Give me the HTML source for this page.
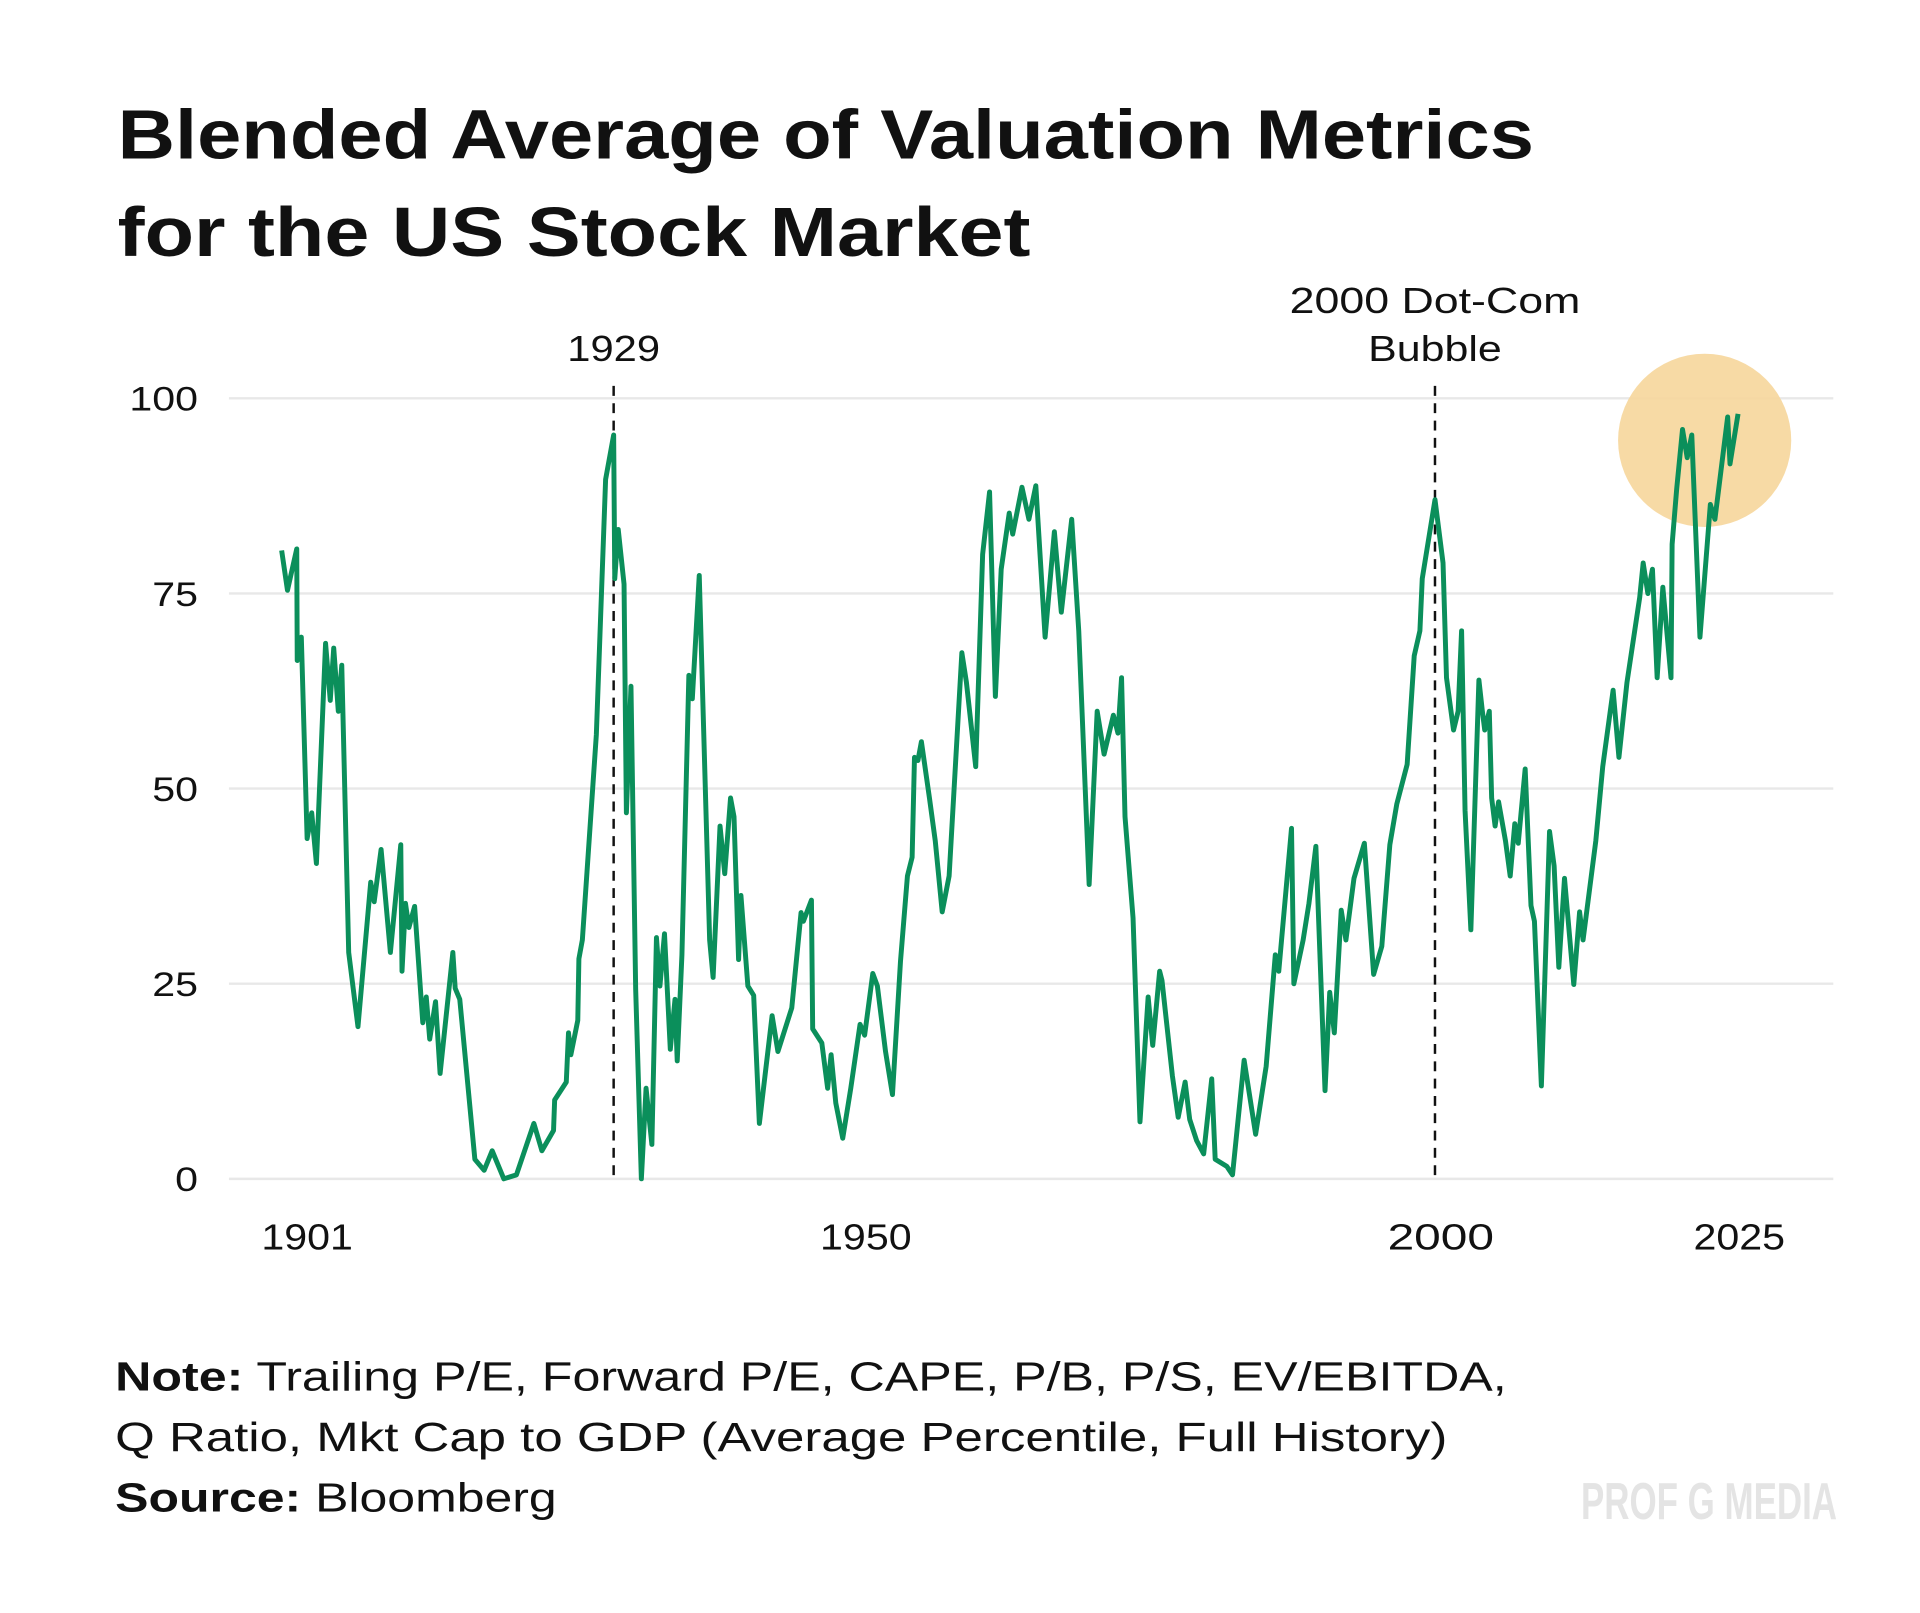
<!DOCTYPE html>
<html><head><meta charset="utf-8"><style>
html,body{margin:0;padding:0;background:#fff;}
svg{display:block;}
text{font-family:"Liberation Sans",sans-serif;}
</style></head><body>
<svg id="chart" width="1920" height="1613" viewBox="0 0 1552 1304" xmlns="http://www.w3.org/2000/svg">
<rect width="1552" height="1304" fill="#fff"/>
<text x="95" y="128" font-size="56" font-weight="bold" fill="#111" textLength="1145" lengthAdjust="spacingAndGlyphs">Blended Average of Valuation Metrics</text>
<text x="95" y="207" font-size="56" font-weight="bold" fill="#111" textLength="738" lengthAdjust="spacingAndGlyphs">for the US Stock Market</text>
<g id="grid"></g>
<g id="yticks"></g>
<g id="xticks"></g>
<circle cx="1378" cy="356" r="70" fill="#f6d69b" opacity="0.9"/>
<g id="events"></g>
<path id="line" fill="none" stroke="#0b8f5b" stroke-width="4" stroke-linejoin="round"/>
<text x="93" y="1124" font-size="33" fill="#111" textLength="1125" lengthAdjust="spacingAndGlyphs"><tspan font-weight="bold">Note:</tspan> Trailing P/E, Forward P/E, CAPE, P/B, P/S, EV/EBITDA,</text>
<text x="93" y="1173" font-size="33" fill="#111" textLength="1077" lengthAdjust="spacingAndGlyphs">Q Ratio, Mkt Cap to GDP (Average Percentile, Full History)</text>
<text x="93" y="1222" font-size="33" fill="#111" textLength="357" lengthAdjust="spacingAndGlyphs"><tspan font-weight="bold">Source:</tspan> Bloomberg</text>
<text x="1278" y="1228" font-size="42" font-weight="bold" fill="#e4e4e4" textLength="207" lengthAdjust="spacingAndGlyphs">PROF G MEDIA</text>
</svg>
<script>
const years=[1900.3,1900.8,1901.6,1901.65,1902.0,1902.5,1902.9,1903.3,1904.1,1904.5,1904.8,1905.2,1905.5,1906.1,1906.9,1908.0,1908.3,1908.9,1909.7,1910.6,1910.7,1911.0,1911.3,1911.8,1912.5,1912.8,1913.1,1913.6,1914.0,1915.1,1915.3,1915.7,1917.0,1917.8,1918.5,1919.5,1920.6,1922.1,1922.8,1923.8,1923.9,1924.9,1925.1,1925.3,1925.9,1926.0,1926.3,1927.5,1928.3,1929.0,1929.1,1929.4,1929.9,1930.1,1930.5,1930.9,1931.4,1931.8,1932.3,1932.7,1933.0,1933.4,1933.9,1934.3,1934.5,1934.9,1935.5,1935.8,1936.4,1937.3,1937.6,1938.2,1938.6,1939.1,1939.4,1939.8,1940.0,1940.6,1941.1,1941.6,1942.7,1943.2,1944.4,1945.2,1945.4,1946.1,1946.2,1947.0,1947.5,1947.8,1948.2,1948.8,1949.5,1950.3,1950.7,1951.4,1951.8,1952.5,1953.1,1953.8,1954.4,1954.8,1955.0,1955.3,1955.6,1956.3,1956.8,1957.4,1958.0,1959.1,1959.5,1960.3,1960.9,1961.5,1962.0,1962.5,1963.2,1963.5,1964.3,1964.9,1965.5,1966.3,1967.1,1967.7,1968.6,1969.2,1970.1,1970.8,1971.4,1972.2,1972.6,1972.9,1973.2,1973.9,1974.5,1975.2,1975.6,1976.2,1976.4,1977.3,1977.8,1978.4,1978.8,1979.4,1980.0,1980.7,1981.0,1982.0,1982.5,1983.5,1984.5,1985.4,1986.2,1986.5,1987.6,1987.8,1988.6,1989.1,1989.7,1990.5,1990.9,1991.3,1991.9,1992.3,1993.0,1993.9,1994.7,1995.4,1996.1,1996.7,1997.6,1998.2,1998.7,1998.9,2000.0,2000.7,2001.0,2001.6,2002.0,2002.3,2002.6,2003.1,2003.8,2004.1,2004.3,2004.7,2004.9,2005.2,2005.5,2006.1,2006.5,2006.9,2007.2,2007.8,2008.3,2008.6,2009.2,2009.9,2010.3,2010.7,2011.2,2012.0,2012.5,2012.8,2013.9,2014.5,2015.4,2015.9,2016.6,2017.7,2018.0,2018.4,2018.8,2019.2,2019.7,2020.4,2020.5,2020.9,2021.4,2021.8,2022.2,2022.9,2023.8,2024.2,2025.3,2025.5,2026.2];
const values=[80.5,75.4,80.7,66.4,69.4,43.6,46.9,40.4,68.6,61.3,68.0,59.9,65.8,29.0,19.5,38.0,35.5,42.2,29.0,42.8,26.6,35.3,32.2,34.9,20.0,23.3,17.9,22.7,13.5,29.0,24.4,23.0,2.5,1.1,3.6,0,0.5,7.1,3.6,6.2,10.1,12.4,18.7,15.9,20.3,28.2,30.6,56.9,89.6,95.3,76.9,83.2,76.2,46.9,63.1,24.3,0,11.6,4.4,30.9,24.7,31.4,16.6,23.0,15.1,28.7,64.5,61.5,77.3,30.6,25.8,45.2,39.1,48.8,46.4,28.1,36.3,24.7,23.5,7.1,20.9,16.3,21.9,34.1,33.0,35.7,19.2,17.4,11.6,15.9,9.7,5.2,11.6,19.8,18.4,26.3,24.7,16.3,10.8,27.9,38.8,41.2,54.0,53.6,56.0,48.8,43.3,34.2,38.8,67.4,63.6,52.8,80.0,88.0,61.8,78.1,85.3,82.6,88.6,84.5,88.8,69.4,82.9,72.6,84.5,70.2,37.7,59.9,54.4,59.4,57.1,64.2,46.4,33.4,7.3,23.3,17.1,26.6,25.4,13.2,7.9,12.4,7.6,4.9,3.2,12.8,2.5,1.6,0.5,15.2,5.7,14.4,28.7,26.6,44.9,25.0,30.6,35.3,42.6,11.3,23.9,18.7,34.4,30.6,38.5,43.0,26.2,29.8,42.8,48.0,53.1,67.0,70.2,76.9,87.0,78.9,64.2,57.5,59.9,70.2,47.2,31.9,63.9,59.9,57.5,59.9,48.8,45.2,48.3,43.3,38.8,45.5,43.0,52.5,35.0,33.0,11.9,44.5,40.1,27.1,38.5,24.9,34.2,30.6,43.3,52.8,62.6,54.0,63.6,74.5,78.9,75.0,78.1,64.2,75.8,64.2,81.3,88.4,96.0,92.4,95.3,69.4,86.4,84.5,97.6,91.6,98.0];
const yTicks=[0,25,50,75,100];
const xTickLabels=["1901","1950","2000","2025"];
const xTickYears=[1902.5,1950.8,2000.5,2026.3];
const eventYears=[1929,2000];

const NS="http://www.w3.org/2000/svg";
function xs(y){return 496+(y-1929)*9.352;}
function ys(v){return 953-v*6.31;}
function mk(tag,attrs,parent,txt){const e=document.createElementNS(NS,tag);for(const k in attrs)e.setAttribute(k,attrs[k]);if(txt!==undefined)e.textContent=txt;parent.appendChild(e);return e;}
const grid=document.getElementById('grid'),yt=document.getElementById('yticks'),xt=document.getElementById('xticks'),ev=document.getElementById('events');
yTicks.forEach(t=>{
  const l=mk('line',{x1:185,x2:1482,y1:ys(t),y2:ys(t),stroke:'#e8e8e8','stroke-width':2},grid);
  
  
  const s=String(t);
  const tx=mk('text',{x:160,y:ys(t)+10,'font-size':28,'text-anchor':'end',fill:'#111',textLength:s.length*18.5,lengthAdjust:'spacingAndGlyphs'},yt,s);
  
  
});
xTickLabels.forEach((s,i)=>{
  const tx=mk('text',{x:xs(xTickYears[i]),y:1010,'font-size':29,'text-anchor':'middle',fill:'#111',textLength:i==2?86:74,lengthAdjust:'spacingAndGlyphs'},xt,s);
  
  
});
eventYears.forEach(y=>{
  const l=mk('line',{x1:xs(y),x2:xs(y),y1:312,y2:953,stroke:'#111','stroke-width':2,'stroke-dasharray':'8,6'},ev);
  
  
});
const a1=mk('text',{x:xs(1929),y:292,'font-size':29,'text-anchor':'middle',fill:'#111',textLength:75,lengthAdjust:'spacingAndGlyphs'},ev,'1929');


const a2=mk('text',{x:xs(2000),y:253,'font-size':29,'text-anchor':'middle',fill:'#111',textLength:235,lengthAdjust:'spacingAndGlyphs'},ev,'2000 Dot-Com');


const a3=mk('text',{x:xs(2000),y:292,'font-size':29,'text-anchor':'middle',fill:'#111',textLength:108,lengthAdjust:'spacingAndGlyphs'},ev,'Bubble');


let d='';
years.forEach((y,i)=>{d+=(i?'L':'M')+xs(y).toFixed(1)+','+ys(values[i]).toFixed(1);});
document.getElementById('line').setAttribute('d',d);
</script>
</body></html>
